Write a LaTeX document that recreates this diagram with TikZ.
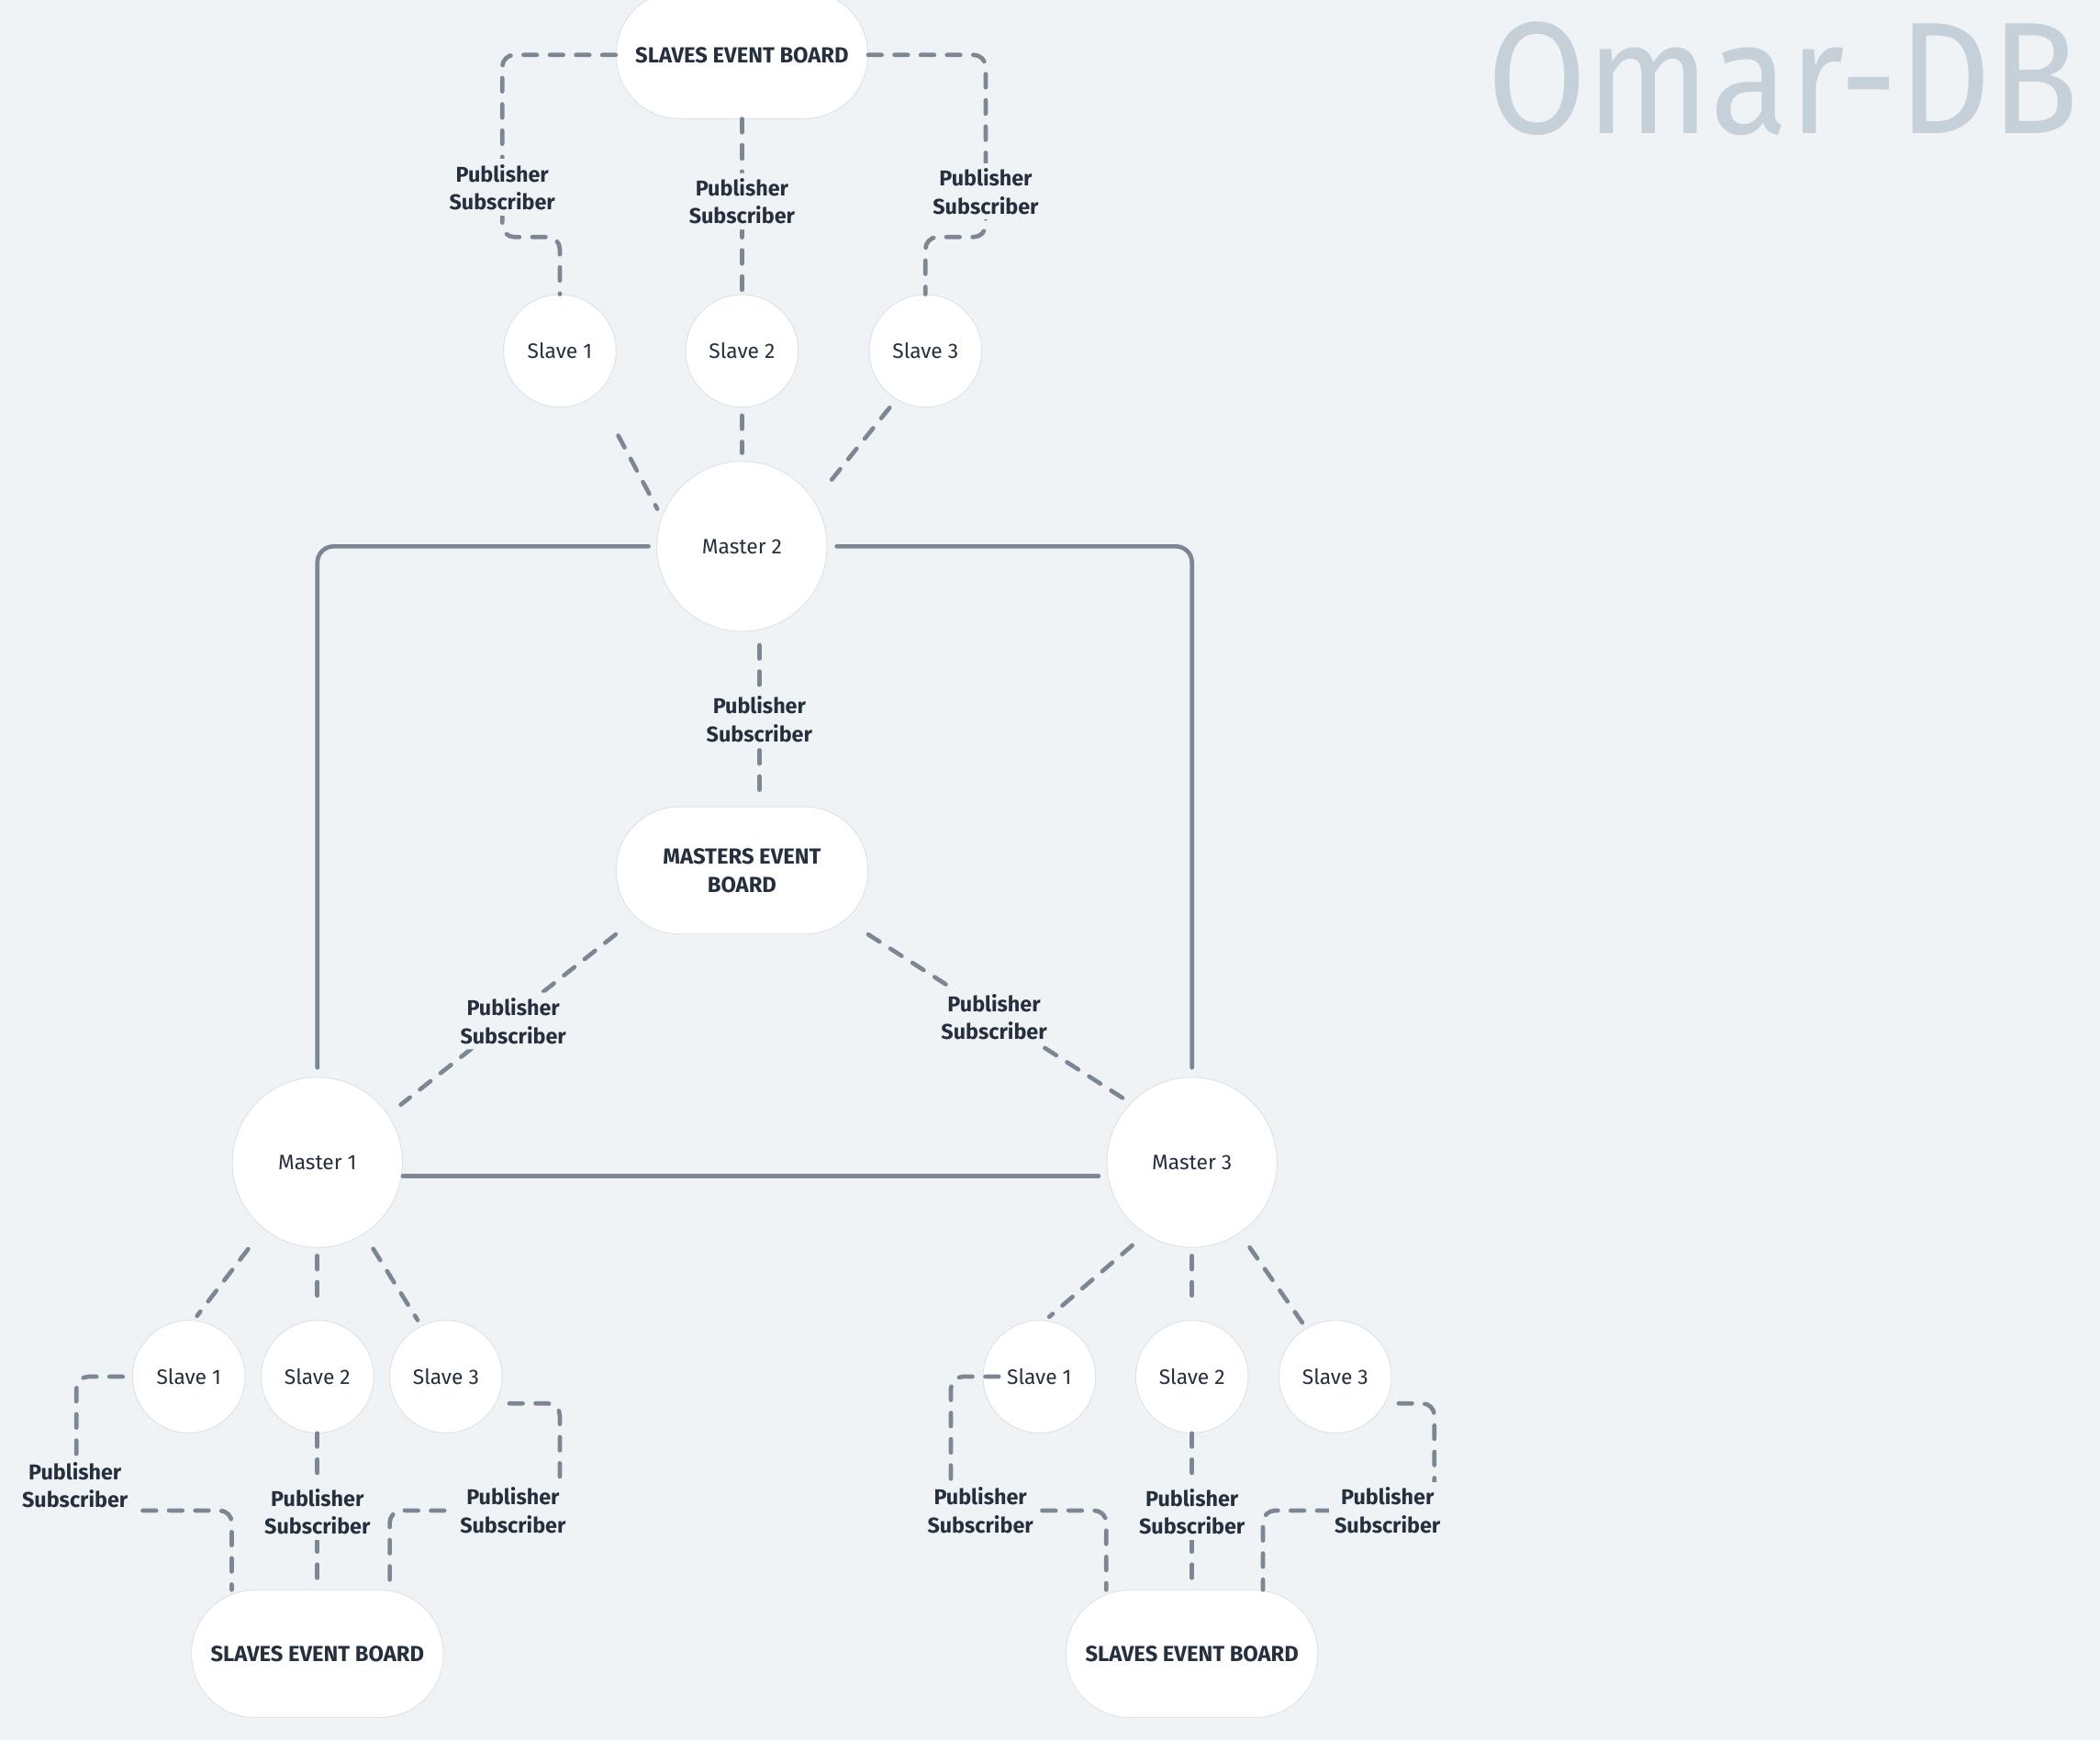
\documentclass[tikz,border=0pt]{standalone}
\usepackage{fontspec}
\setmainfont{Fira Sans}
\usepackage{graphicx}

\definecolor{paper}{RGB}{239,243,246}
\definecolor{ink}{RGB}{38,47,61}
\definecolor{wire}{RGB}{125,135,148}
\definecolor{rim}{RGB}{220,225,230}
\definecolor{brandgray}{RGB}{198,208,216}

\tikzset{
    slave/.style={circle, fill=white, draw=rim, line width=0.6pt, minimum size=84pt, inner sep=0pt, text=ink, font=\fontsize{15.6}{18}\selectfont},
    master/.style={slave, minimum size=127pt},
    board/.style={rectangle, rounded corners=47pt, fill=white, draw=rim, line width=0.6pt, minimum width=188pt, minimum height=95pt, align=center, text=ink, font=\bfseries\fontsize{16.3}{21}\selectfont},
    pubsub/.style={draw=wire, line width=3.2pt, line cap=round, dash pattern=on 10pt off 9.6pt, rounded corners=9pt},
    link/.style={draw=wire, line width=3.2pt, line cap=round, rounded corners=12pt},
    tag/.style={fill=paper, inner sep=4pt, align=center, text=ink, font=\bfseries\fontsize{16}{21}\selectfont}
}

\begin{document}
\begin{tikzpicture}[x=1pt, y=-1pt]
    \fill[paper] (0,0) rectangle (1568,1299);
    \useasboundingbox (0,0) rectangle (1568,1299);

    \node[anchor=base west, inner sep=0pt, text=brandgray, font=\fontsize{119}{119}\selectfont] (brand) at (1110,100) {\resizebox{442pt}{\height}{Omar-DB}};

    \node[board] (topboard) at (554,41) {SLAVES EVENT BOARD};
    \node[slave] (ts1) at (418,262) {Slave 1};
    \node[slave] (ts2) at (554,262) {Slave 2};
    \node[slave] (ts3) at (691,262) {Slave 3};
    \node[master] (m2) at (554,408) {Master 2};
    \node[board] (mboard) at (554,650) {MASTERS EVENT\\BOARD};
    \node[master] (m1) at (237,868) {Master 1};
    \node[master] (m3) at (890,868) {Master 3};

    \node[slave] (ls1) at (141,1028) {Slave 1};
    \node[slave] (ls2) at (237,1028) {Slave 2};
    \node[slave] (ls3) at (333,1028) {Slave 3};
    \node[board] (lboard) at (237,1235) {SLAVES EVENT BOARD};

    \node[slave] (rs1) at (776,1028) {Slave 1};
    \node[slave] (rs2) at (890,1028) {Slave 2};
    \node[slave] (rs3) at (997,1028) {Slave 3};
    \node[board] (rboard) at (890,1235) {SLAVES EVENT BOARD};

    \coordinate (tlbend) at (375,177);
    \coordinate (trbend) at (736,177);
    \coordinate (llbend) at (57,1128);
    \coordinate (lrbend) at (418,1128);
    \coordinate (rlbend) at (710,1128);
    \coordinate (rrbend) at (1071,1128);

    \draw[link, shorten <=6pt, shorten >=7pt] (m2.west) -| (m1.north);
    \draw[link, shorten <=7pt, shorten >=7pt] (m2.east) -| (m3.north);
    \draw[link, shorten >=6pt] ([yshift=-10pt]m1.east) -- ([yshift=-10pt]m3.west);

    \draw[pubsub] (topboard.west) -| (tlbend) -| (ts1.north);
    \draw[pubsub] (topboard.south) -- (ts2.north) node[tag, pos=0.47] (tagt2) {Publisher\\Subscriber};
    \draw[pubsub] (topboard.east) -| (trbend) -| (ts3.north);
    \node[tag] (tagt1) at (375,140) {Publisher\\Subscriber};
    \node[tag] (tagt3) at (736,143) {Publisher\\Subscriber};

    \draw[pubsub, shorten <=35pt, shorten >=7pt] (ts1.-50) -- (m2.160);
    \draw[pubsub, shorten <=6pt, shorten >=6pt] (ts2.south) -- (m2.north);
    \draw[pubsub, shorten <=8pt, shorten >=13pt] (ts3.239) -- (m2.32);

    \draw[pubsub, shorten <=10pt, shorten >=10pt] ([xshift=13pt]m2.south) -- ([xshift=13pt]mboard.north) node[tag, midway] (tagm2) {Publisher\\Subscriber};
    \draw[pubsub, shorten >=12pt] (mboard.south west) -- (m1.34) node[tag, pos=0.48, xshift=5pt] (tagm1) {Publisher\\Subscriber};
    \draw[pubsub, shorten >=6pt] (mboard.south east) -- (m3.136) node[tag, pos=0.49, xshift=-2pt] (tagm3) {Publisher\\Subscriber};

    \draw[pubsub, shorten <=19pt, shorten >=4pt] (m1.231) -- (ls1.85);
    \draw[pubsub, shorten <=6pt, shorten >=14pt] (m1.south) -- (ls2.north);
    \draw[pubsub, shorten <=13pt, shorten >=5pt] (m1.-57) -- (ls3.116);
    \draw[pubsub, shorten <=13pt, shorten >=4pt] (m3.237) -- (rs1.84);
    \draw[pubsub, shorten <=6pt, shorten >=14pt] (m3.south) -- (rs2.north);
    \draw[pubsub, shorten <=13pt, shorten >=5pt] (m3.-56) -- (rs3.121);

    \draw[pubsub, shorten <=7pt] (ls1.west) -| (llbend) -| ([xshift=-64pt]lboard.north);
    \draw[pubsub] (ls2.south) -- (lboard.north) node[tag, midway] (tagl2) {Publisher\\Subscriber};
    \draw[pubsub, shorten <=5pt] ([yshift=-20pt]ls3.east) -| (lrbend) -| ([xshift=54pt]lboard.north);
    \node[tag] (tagl1) at (56,1109) {Publisher\\Subscriber};
    \node[tag] (tagl3) at (383,1128) {Publisher\\Subscriber};

    \draw[pubsub] ([xshift=12pt]rs1.west) -| (rlbend) -| ([xshift=-64pt]rboard.north);
    \draw[pubsub] (rs2.south) -- (rboard.north) node[tag, midway] (tagr2) {Publisher\\Subscriber};
    \draw[pubsub, shorten <=5pt] ([yshift=-20pt]rs3.east) -| (rrbend) -| ([xshift=53pt]rboard.north);
    \node[tag] (tagr1) at (732,1128) {Publisher\\Subscriber};
    \node[tag] (tagr3) at (1036,1128) {Publisher\\Subscriber};

\end{tikzpicture}
\end{document}
